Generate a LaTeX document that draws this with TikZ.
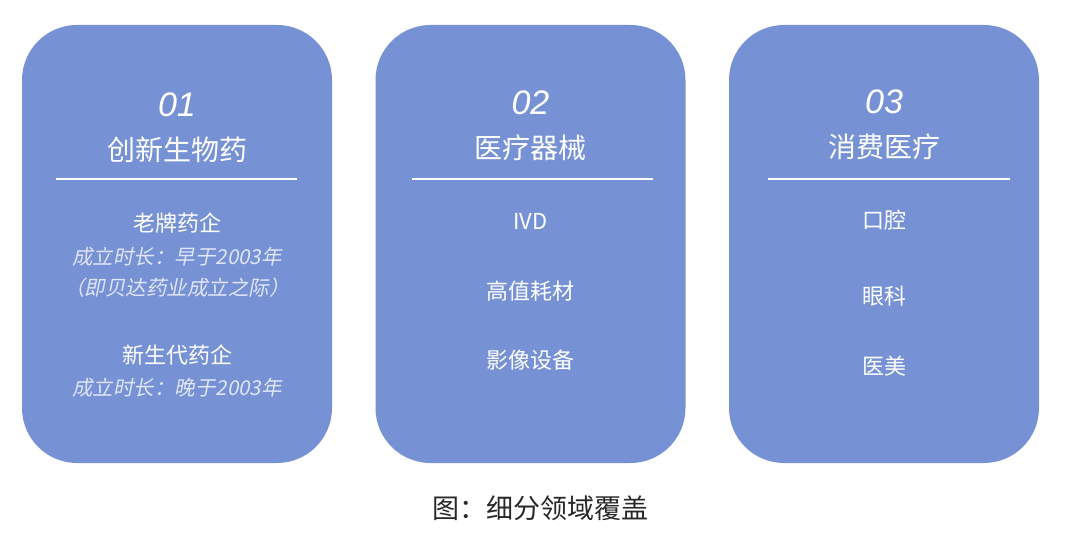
\documentclass[tikz,border=0pt]{standalone}
\usepackage{fontspec}
\setmainfont{Noto Sans CJK SC}
\newfontfamily\numfont{Liberation Sans}
\newfontfamily\slantfont[FakeSlant=0.2]{Noto Sans CJK SC}
\usetikzlibrary{positioning}
\definecolor{cardblue}{RGB}{119,146,212}
\definecolor{noteblue}{RGB}{224,230,248}
\definecolor{capgray}{RGB}{40,40,40}
\tikzset{card/.style = {fill=cardblue, rounded corners=55, minimum width=310,
                        minimum height=438, inner sep=0}}
\tikzset{num/.style = {text=white, inner sep=0, font=\numfont\itshape\fontsize{34}{34}\selectfont}}
\tikzset{head/.style = {text=white, inner sep=0, font=\fontsize{28}{28}\selectfont}}
\tikzset{sub/.style = {text=white, inner sep=0, font=\fontsize{22}{22}\selectfont}}
\tikzset{note/.style = {text=noteblue, inner sep=0, font=\slantfont\fontsize{20.5}{20.5}\selectfont}}
\tikzset{rule/.style = {draw=white, line width=1.3}}

\begin{document}
\begin{tikzpicture}[x=1pt, y=-1pt]
      \useasboundingbox (0, 0) rectangle (1080, 540);

      \node (c1) at (177, 244) [card] {};
      \node (c2) at (530.5, 244) [card] {};
      \node (c3) at (884, 244) [card] {};

      \node (n1) at (177, 105) [num] {01};
      \node (h1) at (177, 150) [head] {创新生物药};
      \coordinate (l1a) at (56, 179);
      \coordinate (l1b) at (297, 179);
      \node (s11) at (177, 223) [sub] {老牌药企};
      \node (m11) at (177, 257) [note] {成立时长：早于2003年};
      \node (m12) at (177, 288) [note] {（即贝达药业成立之际）};
      \node (s12) at (177, 355) [sub] {新生代药企};
      \node (m13) at (177, 388) [note] {成立时长：晚于2003年};

      \node (n2) at (530.5, 103) [num] {02};
      \node (h2) at (530.5, 148) [head] {医疗器械};
      \coordinate (l2a) at (412, 179);
      \coordinate (l2b) at (653, 179);
      \node (s21) at (530.5, 221) [sub] {IVD};
      \node (s22) at (530.5, 291) [sub] {高值耗材};
      \node (s23) at (530.5, 360) [sub] {影像设备};

      \node (n3) at (884, 102) [num] {03};
      \node (h3) at (884, 147) [head] {消费医疗};
      \coordinate (l3a) at (768, 179);
      \coordinate (l3b) at (1010, 179);
      \node (s31) at (884, 220) [sub] {口腔};
      \node (s32) at (884, 296) [sub] {眼科};
      \node (s33) at (884, 366) [sub] {医美};

      \draw [rule] (l1a) -- (l1b);
      \draw [rule] (l2a) -- (l2b);
      \draw [rule] (l3a) -- (l3b);

      \node (cap) at (540, 508) [text=capgray, font=\fontsize{27}{27}\selectfont] {图：细分领域覆盖};
    \end{tikzpicture}
\end{document}
